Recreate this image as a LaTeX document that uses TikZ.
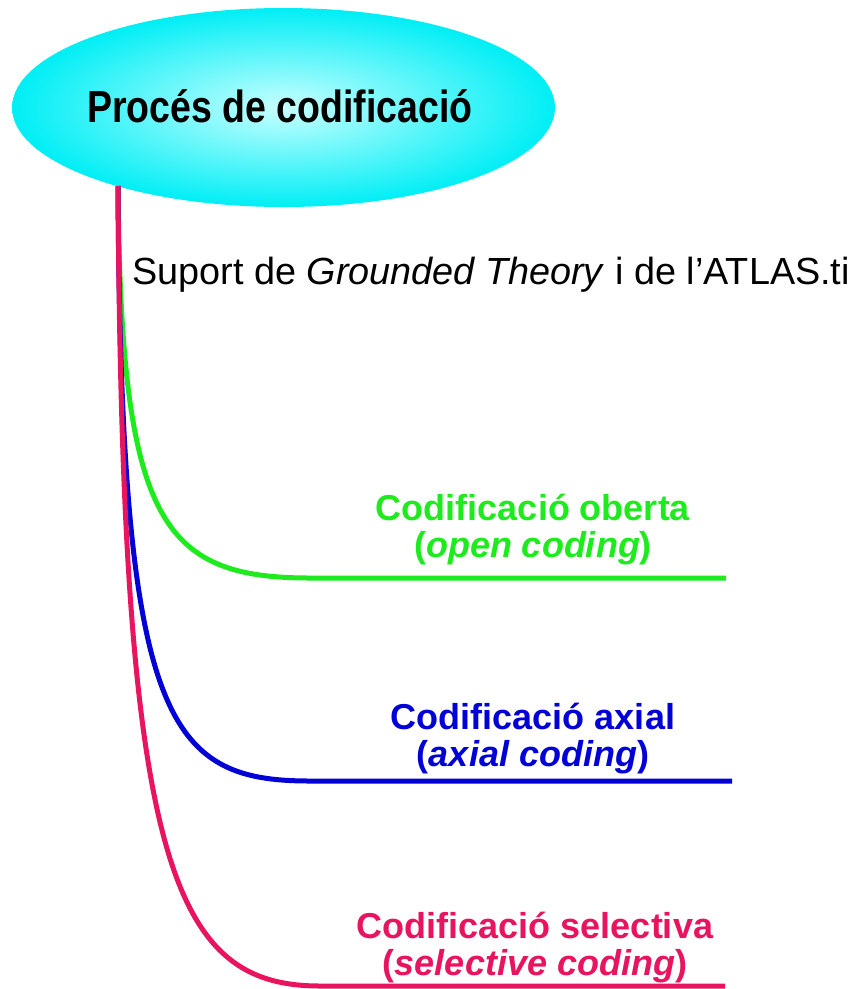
\documentclass[tikz,border=0pt]{standalone}
\usepackage{fontspec}
\usepackage{graphicx}
\setmainfont{Liberation Sans}
\usetikzlibrary{shapes.geometric}
\definecolor{cgreen}{RGB}{30,235,30}
\definecolor{cblue}{RGB}{0,0,215}
\definecolor{cpink}{RGB}{232,20,95}
\definecolor{cyanout}{RGB}{0,238,245}
\definecolor{cyanin}{RGB}{200,255,255}
\tikzset{
  branch/.style={line width=5pt},
  lbl/.style={align=center, inner sep=0pt, font=\bfseries\fontsize{36}{37}\selectfont},
}
\begin{document}
\begin{tikzpicture}[x=1pt,y=-1pt]
\useasboundingbox (0,0) rectangle (861,989);
\fill[white] (0,0) rectangle (861,989);
% ellipse
\node[ellipse, minimum width=543pt, minimum height=199pt, inner sep=0pt,
      inner color=cyanin, outer color=cyanout] (proc) at (283.5,107.5) {};
\node[anchor=base, inner sep=0pt, font=\bfseries\fontsize{37.5}{40}\selectfont] (title) at (280,122)
  {\scalebox{1}[1.2]{Procés de codificació}};
\coordinate (root) at (118,186);
% labels
\node[anchor=base west, inner sep=0pt, font=\fontsize{37.8}{40}\selectfont] (suport) at (132,284)
  {Suport de \textit{Grounded Theory} i de l’ATLAS.ti};
\node[lbl, text=cgreen, anchor=base] (open) at (533,557)
  {Codificació oberta\\(\textit{open coding})};
\node[lbl, text=cblue, anchor=base] (axial) at (533,766)
  {Codificació axial\\(\textit{axial coding})};
\node[lbl, text=cpink, anchor=base] (selective) at (535,975)
  {Codificació selectiva\\(\textit{selective coding})};
\coordinate (gend) at (726,578);
\coordinate (bend) at (732,781);
\coordinate (pend) at (725,986);
% branches
\draw[branch, cgreen] (root) .. controls (121,520) and (160,578) .. (310,578) -- (gend);
\draw[branch, cblue] (root) .. controls (121,720) and (165,781) .. (310,781) -- (bend);
\draw[branch, cpink] (root) .. controls (122,860) and (170,986) .. (320,986) -- (pend);
\end{tikzpicture}
\end{document}
